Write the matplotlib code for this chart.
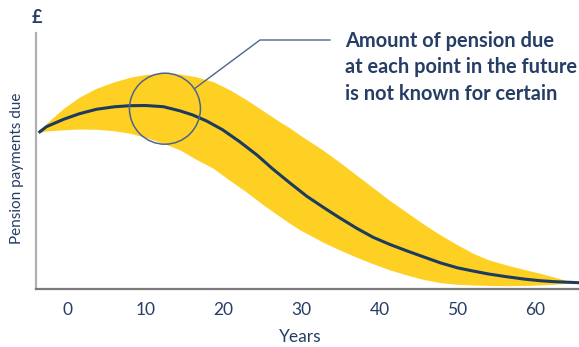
import matplotlib
matplotlib.use("Agg")
import matplotlib.pyplot as plt
from matplotlib.patches import Ellipse
from matplotlib.lines import Line2D

plt.rcParams['font.family'] = ['Lato', 'DejaVu Sans']

# ---- data ----
c_years = [-3.7, -2.7, -0.5, 1.5, 3.7, 6.0, 8.0, 10.0, 12.3, 14.4, 16.0, 17.8,
           19.9, 22.1, 24.3, 26.3, 28.5, 30.7, 32.8, 34.9, 37.1, 39.2, 41.3,
           43.5, 45.6, 47.8, 50.0, 52.0, 54.0, 56.3, 58.5, 60.6, 62.5, 64.4, 65.6]
expected = [156.6, 162.6, 170, 175.5, 180, 182.5, 183.6, 183.8, 182.6, 178.5,
            174.5, 168.5, 159.5, 147.5, 134.3, 120.5, 106.5, 93, 82, 71.5, 61,
            52, 45, 38.5, 32.6, 26.5, 21.5, 18.3, 15.3, 12.6, 10.3, 8.6, 7.6, 7, 6.6]

b_years = [-3.7, -2.7, -0.5, 1.5, 3.7, 6.0, 8.0, 10.0, 12.3, 14.4, 16.5, 18.7,
           20.8, 23.0, 25.1, 27.2, 28.5, 29.8, 32.8, 35.0, 37.1, 39.2, 41.3,
           43.5, 45.6, 47.8, 50.0, 52.0, 54.0, 56.3, 58.5, 60.6, 62.5, 64.4, 65.6]
upper = [156.6, 166, 181, 192, 201, 207.5, 212, 214.8, 216, 215.3, 212.5, 207.6,
         199.5, 189.3, 178.5, 167.6, 161.5, 154.3, 139, 126.5, 114, 101.5, 89,
         77, 65.5, 54.5, 44.5, 36, 29.5, 24.3, 20, 16, 12, 7.8, 6.6]
lower = [156.6, 158.3, 159.5, 160.3, 160, 158.5, 156, 152, 146, 139.5, 130, 121,
         109, 97, 84.5, 73, 66, 59.5, 47, 39, 32, 25.5, 19.5,
         14.3, 10, 6.7, 5, 4.3, 3.9, 3.6, 3.8, 4.3, 5.2, 6, 6.6]

xticks = [0, 10, 20, 30, 40, 50, 60]
annotation = "Amount of pension due\nat each point in the future\nis not known for certain"

NAVY = "#1d3a5f"
TEXT = "#263d66"
YELLOW = "#fdd023"

W, H = 579, 347
fig = plt.figure(figsize=(W / 100, H / 100), dpi=100)
ax = fig.add_axes([35.5 / W, 1 - 289.3 / H, (W - 35.5) / W, (289.3 - 33) / H])

ax.fill_between(b_years, lower, upper, color=YELLOW, linewidth=0, zorder=1)
ax.plot(c_years, expected, color=NAVY, linewidth=2.2, solid_capstyle='butt',
        solid_joinstyle='round', zorder=3)

ax.set_xlim(-4.1, 65.6)
ax.set_ylim(0, 256.3)

# highlight circle (style element)
ax.add_patch(Ellipse((12.5, 180.6), width=71 / 7.8, height=71, fill=False,
                     edgecolor="#4f648c", linewidth=1.1, zorder=4))

for s in ['top', 'right']:
    ax.spines[s].set_visible(False)
ax.spines['left'].set_color("#b0b0b0")
ax.spines['left'].set_linewidth(1.6)
ax.spines['bottom'].set_color("#7a7a7a")
ax.spines['bottom'].set_linewidth(1.6)

ax.set_xticks(xticks)
ax.set_xticklabels([str(t) for t in xticks])
ax.set_yticks([])
ax.tick_params(axis='x', length=0, pad=9.5, labelsize=12.5, labelcolor=TEXT)
ax.set_xlabel("Years", fontsize=12.5, color=TEXT)
ax.xaxis.label.set_va('baseline')
ax.xaxis.set_label_coords((300.5 - 35.5) / 543.5, -(342.5 - 289.3) / 256.3)
ax.set_ylabel("Pension payments due", fontsize=11, color=TEXT)
ax.yaxis.label.set_va('center')
ax.yaxis.set_label_coords((16.7 - 35.5) / 543.5, (289.3 - 168.3) / 256.3)

fig.text(37 / W, 1 - 17.5 / H, "£", fontsize=13, fontweight='bold', color=TEXT,
         ha='center', va='center')

# leader line
pts = [(195, 88.3), (260, 40), (330, 40)]
fig.add_artist(Line2D([p[0] / W for p in pts], [1 - p[1] / H for p in pts],
                      color="#4f648c", linewidth=1.0, transform=fig.transFigure))

fig.text(345 / W, 1 - 31 / H, annotation, fontsize=14.4, fontweight='bold',
         color=TEXT, ha='left', va='top', linespacing=1.4)

fig.savefig("out.png", dpi=100)
